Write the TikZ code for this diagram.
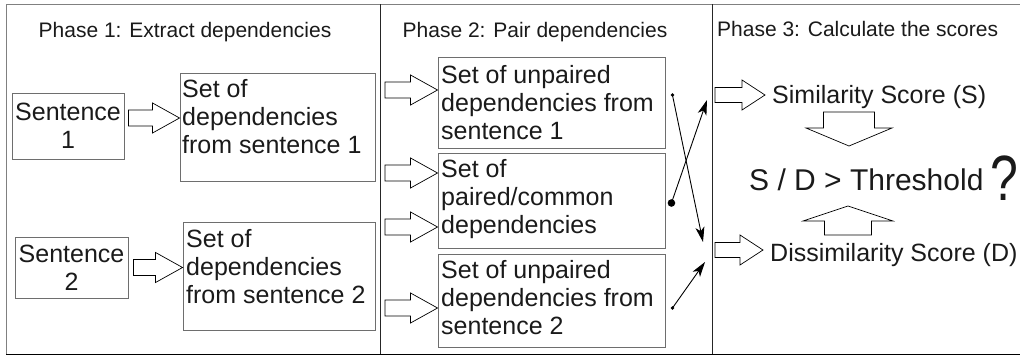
\documentclass[tikz,border=0pt]{standalone}
\usepackage{fontspec}
\setmainfont{Liberation Sans}
\usetikzlibrary{calc,arrows.meta}
\definecolor{boxgray}{HTML}{6E6E6E}
\definecolor{framegray}{HTML}{808080}
\definecolor{ink}{HTML}{1A1A1A}
\tikzset{
  boxnode/.style={draw=boxgray,line width=0.9pt,rectangle,inner sep=0pt},
  boxtxt/.style={inner sep=0pt,anchor=north west,align=left,text=ink,font=\fontsize{25}{28}\selectfont},
  sentxt/.style={boxnode,align=center,text=ink,font=\fontsize{25}{28}\selectfont},
  titletxt/.style={inner sep=0pt,text=ink,font=\fontsize{21}{25}\selectfont},
  scoretxt/.style={inner ysep=0pt,inner xsep=7pt,anchor=base west,text=ink,font=\fontsize{25}{28}\selectfont},
  blkarrow/.style={draw=black,line width=0.7pt,fill=white,line join=miter},
  thinarrow/.style={draw=black,line width=0.9pt},
  tip/.style={-{Stealth[length=15pt,width=9pt,inset=4pt]}},
}
\newcommand\blk[5]{%
  \coordinate (bkH) at ($(#2)!#3!(#1)$);
  \draw[blkarrow] ($(#1)!#4!90:(#2)$) -- ($(bkH)!#4!-90:(#1)$) -- ($(bkH)!#5!-90:(#1)$) -- (#2)
     -- ($(bkH)!#5!90:(#1)$) -- ($(bkH)!#4!90:(#1)$) -- ($(#1)!#4!-90:(#2)$) -- cycle;}
\begin{document}
\begin{tikzpicture}[x=1pt,y=-1pt]
\useasboundingbox (0,0) rectangle (1020,356);
\begin{scope}
\clip (0,0) rectangle (1020,356);
\draw[framegray,line width=1pt] (6,4) rectangle (1030,354);
\draw[black,line width=1pt] (6,354) -- (1030,354);
\draw[black!85,line width=1pt] (380,4) -- (380,354);
\draw[black!85,line width=1pt] (712,4) -- (712,354);
\end{scope}

% titles
\node[titletxt,anchor=base] (t1) at (185,37) {Phase 1: Extract dependencies};
\node[titletxt,anchor=base] (t2) at (535,37) {Phase 2: Pair dependencies};
\node[titletxt,anchor=base west] (t3) at (717,36) {Phase 3: Calculate the scores};

% phase 1
\node[sentxt,minimum width=112pt,minimum height=66pt] (s1) at (68,126) {Sentence\\1};
\node[sentxt,minimum width=113pt,minimum height=61pt] (s2) at (71.5,267.5) {Sentence\\2};
\node[boxnode,minimum width=195pt,minimum height=108pt] (d1) at (277.5,127) {};
\node[boxtxt] (d1t) at (182,79.7) {Set of\\dependencies\\from sentence 1};
\node[boxnode,minimum width=192pt,minimum height=108pt] (d2) at (279,276) {};
\node[boxtxt] (d2t) at (186,229.7) {Set of\\dependencies\\from sentence 2};

% phase 2
\node[boxnode,minimum width=227pt,minimum height=91pt] (u1) at (551.5,102.5) {};
\node[boxtxt] (u1t) at (441,64.7) {Set of unpaired\\dependencies from\\sentence 1};
\node[boxnode,minimum width=227pt,minimum height=95pt] (pc) at (551.5,200.5) {};
\node[boxtxt] (pct) at (441,159.7) {Set of\\paired/common\\dependencies};
\node[boxnode,minimum width=227pt,minimum height=93pt] (u2) at (551.5,300.5) {};
\node[boxtxt] (u2t) at (441,259.7) {Set of unpaired\\dependencies from\\sentence 2};

% phase 3
\node[scoretxt] (sim) at (765,103) {Similarity Score (S)};
\node[scoretxt] (dis) at (763,261) {Dissimilarity Score (D)};
\node[inner sep=0pt,anchor=base west,text=ink,font=\fontsize{30}{34}\selectfont] (thr) at (749,190)
  {S / D > Threshold\hspace{7pt}\raisebox{-10pt}{\scalebox{0.78}[1]{\fontsize{64}{64}\selectfont ?}}};

% block arrows phase 1
\coordinate (a1) at ($(s1.east)+(4,-8)$);
\blk{a1}{d1.west |- a1}{27pt}{8pt}{15pt}
\coordinate (a2) at ($(s2.east)+(5,0)$);
\blk{a2}{d2.west |- a2}{27pt}{8pt}{15pt}

% block arrows phase 2
\coordinate (a3) at (385,90);
\blk{a3}{u1.west |- a3}{27pt}{8pt}{15pt}
\coordinate (a4) at (385,173);
\blk{a4}{pc.west |- a4}{27pt}{8pt}{15pt}
\coordinate (a5) at (385,227);
\blk{a5}{pc.west |- a5}{27pt}{8pt}{15pt}
\coordinate (a6) at (385,308);
\blk{a6}{u2.west |- a6}{27pt}{8pt}{15pt}

% block arrows phase 3
\coordinate (a7) at (715,95);
\blk{a7}{sim.west |- a7}{23pt}{7.5pt}{15pt}
\coordinate (a8) at (715,250);
\blk{a8}{dis.west |- a8}{23pt}{7.5pt}{15pt}
\coordinate (v1s) at (849,112);
\coordinate (v1e) at (849,146);
\blk{v1s}{v1e}{18pt}{25.5pt}{43pt}
\coordinate (v2s) at (848,235);
\coordinate (v2e) at (848,206);
\blk{v2s}{v2e}{15pt}{23.5pt}{45pt}

% crossing connectors
\coordinate (c1s) at ($(u1.east)+(7,-7.5)$);
\coordinate (c1e) at (703,242);
\coordinate (c2s) at ($(pc.east)+(6,2.5)$);
\coordinate (c2e) at (707,100);
\coordinate (c3s) at ($(u2.east)+(7,7.5)$);
\coordinate (c3e) at (705,262);
\draw[thinarrow,tip] (c1s) -- (c1e);
\fill[black] (c1s) circle[radius=1.8pt];
\draw[thinarrow,tip] (c2s) -- (c2e);
\fill[black] (c2s) circle[radius=3.8pt];
\draw[thinarrow,tip] (c3s) -- (c3e);
\fill[black] (c3s) circle[radius=1.8pt];
\end{tikzpicture}
\end{document}
